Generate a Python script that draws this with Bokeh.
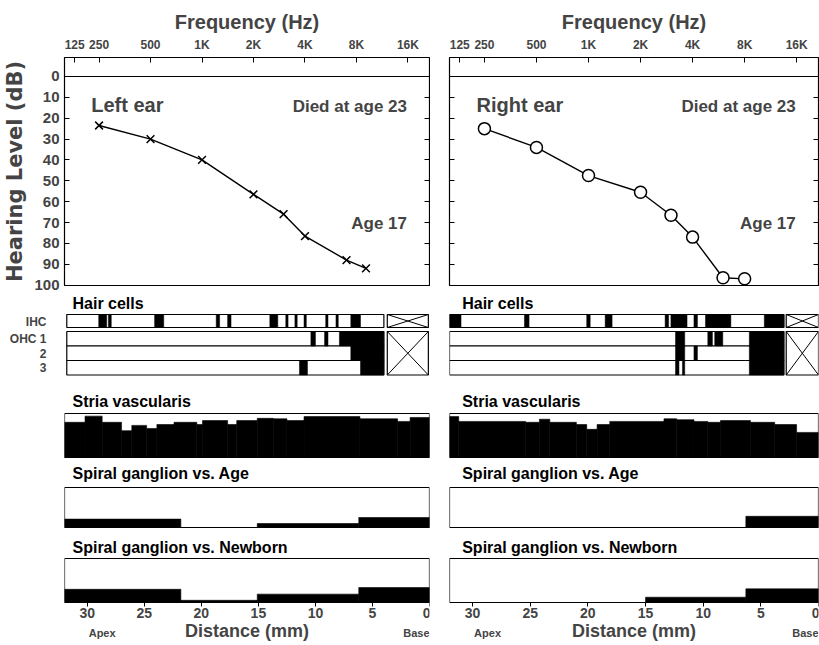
from bokeh.plotting import figure
from bokeh.layouts import row, column
from bokeh.models import Range1d, LinearAxis, FixedTicker, Span, Label, BoxAnnotation
from bokeh.embed import file_html
from bokeh.resources import INLINE

FONT = "Liberation Sans"

# ---------------- audiogram data ----------------
freq_tick_values = [180, 250, 500, 1000, 2000, 4000, 8000, 16000]
freq_tick_labels = ["125", "250", "500", "1K", "2K", "4K", "8K", "16K"]
db_ticks = [0, 10, 20, 30, 40, 50, 60, 70, 80, 90, 100]

left_freq = [250, 500, 1000, 2000, 3000, 4000, 7000, 9100]
left_db = [23.5, 30, 40, 56.5, 66, 76.5, 88, 92]
right_freq = [250, 500, 1000, 2000, 3000, 4000, 6000, 8000]
right_db = [25, 34, 47.5, 55.5, 66.5, 77, 96.5, 97]

# ---------------- cochlear distance (mm from base) ----------------
distance_ticks = [30, 25, 20, 15, 10, 5, 0]

# hair cells: missing cells (black) as from/to segments
hair_rows = ["IHC", "OHC 1", "2", "3"]
left_examined = [31.8, 4.0]
left_not_examined = [3.7, 0.1]
left_ihc_from = [29.0, 28.15, 24.1, 18.7, 17.7, 14.0, 12.6, 11.8, 11.0, 9.1, 8.2, 6.9]
left_ihc_to = [28.3, 27.9, 23.3, 18.4, 17.4, 13.3, 12.4, 11.6, 10.8, 8.9, 8.0, 6.05]
left_ohc1_from = [10.4, 9.2, 7.9]
left_ohc1_to = [10.0, 8.9, 4.0]
left_ohc2_from = [6.9]
left_ohc2_to = [4.0]
left_ohc3_from = [11.4, 6.05]
left_ohc3_to = [10.7, 4.0]

right_examined = [32.0, 3.0]
right_not_examined = [2.8, 0.0]
right_ihc_from = [32.0, 25.5, 20.1, 18.5, 13.3, 12.8, 10.8, 9.8, 4.7]
right_ihc_to = [31.0, 25.1, 19.8, 17.9, 13.0, 11.4, 10.5, 7.6, 3.0]
right_ohc1_from = [12.4, 9.6, 9.0, 6.0]
right_ohc1_to = [11.6, 9.2, 8.3, 3.0]
right_ohc2_from = [12.4, 10.8, 6.0]
right_ohc2_to = [11.6, 10.5, 3.0]
right_ohc3_from = [12.4, 11.8, 6.0]
right_ohc3_to = [12.1, 11.6, 3.0]

# stria vascularis: fraction of normal, step function
left_stria_edges = [32.0, 30.2, 28.7, 27.0, 26.1, 24.8, 23.9, 22.4, 20.4, 19.9, 17.7,
                    16.9, 15.1, 13.7, 12.5, 11.0, 6.1, 2.8, 1.7, 0.0]
left_stria_level = [0.80, 0.94, 0.80, 0.61, 0.73, 0.66, 0.75, 0.80, 0.75, 0.84,
                    0.75, 0.84, 0.89, 0.88, 0.84, 0.93, 0.88, 0.82, 0.91]
right_stria_edges = [32.0, 31.2, 25.4, 24.2, 23.3, 21.0, 20.1, 19.2, 18.1, 13.4,
                     12.3, 10.8, 9.6, 8.5, 5.9, 3.8, 1.9, 0.0]
right_stria_level = [0.93, 0.82, 0.80, 0.87, 0.80, 0.75, 0.64, 0.75, 0.82, 0.88,
                     0.86, 0.82, 0.80, 0.84, 0.80, 0.75, 0.57]

# spiral ganglion loss
left_sg_age_from = [32.0, 15.1, 6.2]
left_sg_age_to = [21.8, 6.2, 0.0]
left_sg_age_level = [0.21, 0.10, 0.25]
right_sg_age_from = [6.3]
right_sg_age_to = [0.0]
right_sg_age_level = [0.28]
left_sg_nb_from = [32.0, 21.8, 15.1, 6.2]
left_sg_nb_to = [21.8, 15.1, 6.2, 0.0]
left_sg_nb_level = [0.30, 0.05, 0.19, 0.34]
right_sg_nb_from = [15.0, 6.3]
right_sg_nb_to = [6.3, 0.0]
right_sg_nb_level = [0.12, 0.31]

# layout: figure widths / left borders / title x in mm
COLS = {"left": dict(width=430, bl=64, tx=31.3), "right": dict(width=389, bl=19, tx=30.9)}


def base_fig(side, height, top, bottom, x_range, y_range, **kw):
    c = COLS[side]
    p = figure(width=c["width"], height=height, x_range=x_range, y_range=y_range,
               min_border_left=c["bl"], min_border_right=1,
               min_border_top=top, min_border_bottom=bottom,
               output_backend="svg", toolbar_location=None, **kw)
    p.grid.visible = False
    p.outline_line_color = "black"
    p.outline_line_width = 1.2
    p.background_fill_color = "white"
    p.border_fill_color = "white"
    return p


def panel_box(p):
    p.outline_line_color = None
    p.add_layout(BoxAnnotation(left=32, right=0, bottom=0, top=1, fill_color=None,
                               line_color="black", line_width=1.2, line_alpha=1))


def panel_title(p, side, text, y):
    p.add_layout(Label(x=COLS[side]["tx"], y=y, text=text, text_font=FONT,
                       text_font_size="16px", text_font_style="bold",
                       text_baseline="middle", text_color="black"))


def hidden_labels(axis):
    axis.major_label_text_color = None
    axis.major_label_text_font_size = "1px"
    axis.major_label_standoff = 0


def audiogram(side, freqs, dbs, marker, ear_text):
    left = side == "left"
    p = base_fig(side, 296, 57, 11, Range1d(157, 21400), Range1d(100.2, -9.1),
                 x_axis_type="log", x_axis_location="above", y_axis_location="left")
    xa = p.xaxis[0]
    xa.ticker = FixedTicker(ticks=freq_tick_values)
    xa.major_label_overrides = {v: l for v, l in zip(freq_tick_values, freq_tick_labels)}
    xa.major_tick_in = 5
    xa.major_tick_out = 0
    xa.minor_tick_line_color = None
    xa.axis_line_color = None
    xa.major_label_text_font = FONT
    xa.major_label_text_font_size = "12px"
    xa.major_label_text_font_style = "bold"
    xa.major_label_standoff = 6
    xa.axis_label = "Frequency (Hz)"
    xa.axis_label_text_font = FONT
    xa.axis_label_text_font_size = "20px"
    xa.axis_label_text_font_style = "bold"
    xa.axis_label_standoff = 2

    ya = p.yaxis[0]
    ya.ticker = FixedTicker(ticks=db_ticks)
    ya.major_tick_in = 5
    ya.major_tick_out = 0
    ya.minor_tick_line_color = None
    ya.axis_line_color = None
    if left:
        ya.major_label_text_font = FONT
        ya.major_label_text_font_size = "15px"
        ya.major_label_text_font_style = "bold"
        ya.major_label_standoff = 5
        ya.axis_label = "Hearing Level (dB)"
        ya.axis_label_text_font = "DejaVu Sans"
        ya.axis_label_text_font_size = "21px"
        ya.axis_label_text_font_style = "bold"
        ya.axis_label_standoff = 4
    else:
        hidden_labels(ya)

    ra = LinearAxis(ticker=FixedTicker(ticks=db_ticks), major_tick_in=5, major_tick_out=0,
                    minor_tick_line_color=None, axis_line_color=None)
    hidden_labels(ra)
    p.add_layout(ra, "right")

    p.add_layout(Span(location=0, dimension="width", line_color="black", line_width=1.2))
    p.line(freqs, dbs, line_color="black", line_width=1.4)
    if marker == "x":
        p.scatter(freqs, dbs, marker="x", size=11, line_color="black", line_width=1.5)
    else:
        p.scatter(freqs, dbs, marker="circle", size=12, fill_color="white",
                  line_color="black", line_width=1.5)

    p.add_layout(Label(x=225, y=13.7, text=ear_text, text_font=FONT, text_font_size="20px",
                       text_font_style="bold", text_baseline="middle"))
    p.add_layout(Label(x=15800, y=14.5, text="Died at age 23", text_font=FONT,
                       text_font_size="17px", text_font_style="bold",
                       text_baseline="middle", text_align="right"))
    p.add_layout(Label(x=15800, y=70.5, text="Age 17", text_font=FONT,
                       text_font_size="17px", text_font_style="bold",
                       text_baseline="middle", text_align="right"))
    return p


def hair_panel(side, rows, examined, not_examined):
    left = side == "left"
    p = base_fig(side, 84, 0, 0, Range1d(32, 0), Range1d(66, -18),
                 x_axis_location=None, y_axis_location="left" if left else None)
    p.outline_line_color = None
    row_top = [0, 17, 31.5, 46]
    row_bottom = [13, 31.5, 46, 60.5]
    p.quad(left=[examined[0]] * 4, right=[examined[1]] * 4, top=row_top, bottom=row_bottom,
           fill_color="white", line_color="black", line_width=1.2)
    for (starts, ends), t, b in zip(rows, row_top, row_bottom):
        p.quad(left=starts, right=ends, top=t, bottom=b,
               fill_color="black", line_color="black", line_width=0.5)
    box_top = [0, 17]
    box_bottom = [13, 60.5]
    n0, n1 = not_examined
    p.quad(left=[n0, n0], right=[n1, n1], top=box_top, bottom=box_bottom,
           fill_color="white", line_color="black", line_width=1.2)
    p.segment(x0=[n0, n0, n0, n0], y0=[box_top[0], box_bottom[0], box_top[1], box_bottom[1]],
              x1=[n1, n1, n1, n1], y1=[box_bottom[0], box_top[0], box_bottom[1], box_top[1]],
              line_color="black", line_width=1)
    if left:
        ya = p.yaxis[0]
        ticks = [7, 24, 39, 53]
        ya.ticker = FixedTicker(ticks=ticks)
        ya.major_label_overrides = {t: l for t, l in zip(ticks, hair_rows)}
        ya.major_tick_line_color = None
        ya.minor_tick_line_color = None
        ya.axis_line_color = None
        ya.major_label_text_font = FONT
        ya.major_label_text_font_size = "12px"
        ya.major_label_text_font_style = "bold"
        ya.major_label_standoff = 12
    panel_title(p, side, "Hair cells", -11.5)
    return p


def stria_panel(side, edges, levels):
    # figure 80 px tall; box spans px 33..77 -> data 0..1
    p = base_fig(side, 80, 0, 0, Range1d(32, 0), Range1d(-3 / 44, 1 + 33 / 44),
                 x_axis_location=None, y_axis_location=None)
    panel_box(p)
    p.quad(left=edges[:-1], right=edges[1:], bottom=0, top=levels,
           fill_color="black", line_color="black", line_width=0.6)
    panel_title(p, side, "Stria vascularis", 1 + 12.5 / 44)
    return p


def sg_age_panel(side, starts, ends, levels):
    # figure 71 px tall; box spans px 27..67
    p = base_fig(side, 71, 0, 0, Range1d(32, 0), Range1d(-4 / 40, 1 + 27 / 40),
                 x_axis_location=None, y_axis_location=None)
    panel_box(p)
    p.quad(left=starts, right=ends, bottom=0, top=levels,
           fill_color="black", line_color="black", line_width=0.6)
    panel_title(p, side, "Spiral ganglion vs. Age", 1 + 14 / 40)
    return p


def sg_newborn_panel(side, starts, ends, levels):
    # figure 114 px tall; box spans px 27..71, axis below it
    p = base_fig(side, 114, 0, 0, Range1d(32, 0), Range1d(-43 / 44, 1 + 27 / 44),
                 x_axis_location=None, y_axis_location=None)
    panel_box(p)
    p.quad(left=starts, right=ends, bottom=0, top=levels,
           fill_color="black", line_color="black", line_width=0.6)
    panel_title(p, side, "Spiral ganglion vs. Newborn", 1 + 11 / 44)
    xa = LinearAxis(fixed_location=0, ticker=FixedTicker(ticks=distance_ticks))
    xa.major_tick_out = 4
    xa.major_tick_in = 0
    xa.minor_tick_line_color = None
    xa.axis_line_color = None
    xa.major_label_text_font = FONT
    xa.major_label_text_font_size = "14px"
    xa.major_label_text_font_style = "bold"
    xa.major_label_standoff = 1
    xa.axis_label = "Distance (mm)"
    xa.axis_label_text_font = FONT
    xa.axis_label_text_font_size = "18px"
    xa.axis_label_text_font_style = "bold"
    xa.axis_label_standoff = 0
    p.add_layout(xa, "below")
    p.add_layout(Label(x=28.7, y=-30.5 / 44, text="Apex", text_font=FONT,
                       text_font_size="11px", text_font_style="bold",
                       text_align="center", text_baseline="middle"))
    p.add_layout(Label(x=0, y=-30.5 / 44, text="Base", text_font=FONT,
                       text_font_size="11px", text_font_style="bold",
                       text_align="right", text_baseline="middle"))
    return p


left_col = column(
    audiogram("left", left_freq, left_db, "x", "Left ear"),
    hair_panel("left",
               [(left_ihc_from, left_ihc_to), (left_ohc1_from, left_ohc1_to),
                (left_ohc2_from, left_ohc2_to), (left_ohc3_from, left_ohc3_to)],
               left_examined, left_not_examined),
    stria_panel("left", left_stria_edges, left_stria_level),
    sg_age_panel("left", left_sg_age_from, left_sg_age_to, left_sg_age_level),
    sg_newborn_panel("left", left_sg_nb_from, left_sg_nb_to, left_sg_nb_level),
)

right_col = column(
    audiogram("right", right_freq, right_db, "o", "Right ear"),
    hair_panel("right",
               [(right_ihc_from, right_ihc_to), (right_ohc1_from, right_ohc1_to),
                (right_ohc2_from, right_ohc2_to), (right_ohc3_from, right_ohc3_to)],
               right_examined, right_not_examined),
    stria_panel("right", right_stria_edges, right_stria_level),
    sg_age_panel("right", right_sg_age_from, right_sg_age_to, right_sg_age_level),
    sg_newborn_panel("right", right_sg_nb_from, right_sg_nb_to, right_sg_nb_level),
)

layout = row(left_col, right_col)

with open("out.html", "w") as f:
    f.write(file_html(layout, INLINE))
